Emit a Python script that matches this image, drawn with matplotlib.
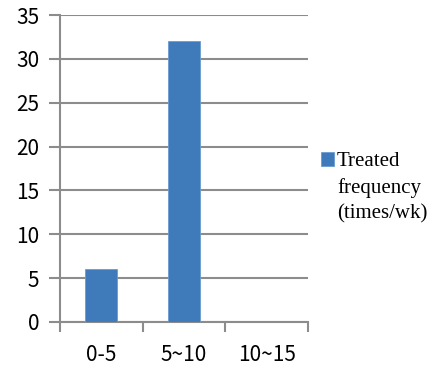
import matplotlib
matplotlib.use("Agg")
import matplotlib.pyplot as plt
import numpy as np

categories = ["0-5", "5~10", "10~15"]
values = [6, 32, 0]
series_label = "Treated\nfrequency\n(times/wk)"
y_ticks = [0, 5, 10, 15, 20, 25, 30, 35]

bar_color = "#3f7bbb"
grid_color = "#8c8c8c"

fig = plt.figure(figsize=(4.41, 3.71), dpi=100)
ax = fig.add_axes([60 / 441, 1 - 322 / 371, 248 / 441, 307 / 371])

x = np.arange(len(categories))
ax.bar(x, values, width=0.39, color=bar_color, edgecolor="#6a9bd0", linewidth=0.6,
       label=series_label, zorder=3)

ax.set_xlim(-0.5, len(categories) - 0.5)
ax.set_ylim(0, 35)
ax.set_yticks(y_ticks)
ax.set_xticks(np.arange(len(categories) + 1) - 0.5)
ax.set_xticklabels([])
ax.set_xticks(x, minor=True)
ax.set_xticklabels(categories, minor=True)

for s in ["top", "right"]:
    ax.spines[s].set_visible(False)
for s in ["left", "bottom"]:
    ax.spines[s].set_color(grid_color)
    ax.spines[s].set_linewidth(1.5)

ax.grid(axis="y", color=grid_color, linewidth=1.5, zorder=0)
ax.set_axisbelow(True)
ax.tick_params(axis="y", which="major", length=8, width=1.5, color=grid_color,
               labelsize=15, pad=7)
ax.tick_params(axis="x", which="major", length=7, width=1.5, color=grid_color)
ax.tick_params(axis="x", which="minor", length=0, labelsize=15, pad=16)
for lab in ax.get_yticklabels() + ax.get_xticklabels(minor=True):
    lab.set_family(["Noto Sans CJK KR", "DejaVu Sans"])

leg = ax.legend(loc="upper left", bbox_to_anchor=(311 / 441, 1 - 142 / 371),
                bbox_transform=fig.transFigure, frameon=False,
                prop={"family": "Liberation Serif", "size": 15},
                handlelength=0.6, handleheight=0.6, handletextpad=0.15,
                borderpad=0, labelspacing=0)
for t in leg.get_texts():
    t.set_linespacing(1.45)
# put the colour square next to the first line of the label
for col in leg._legend_handle_box.get_children():
    for row in col.get_children():
        row.align = "top"

fig.savefig("out.png", dpi=100)
